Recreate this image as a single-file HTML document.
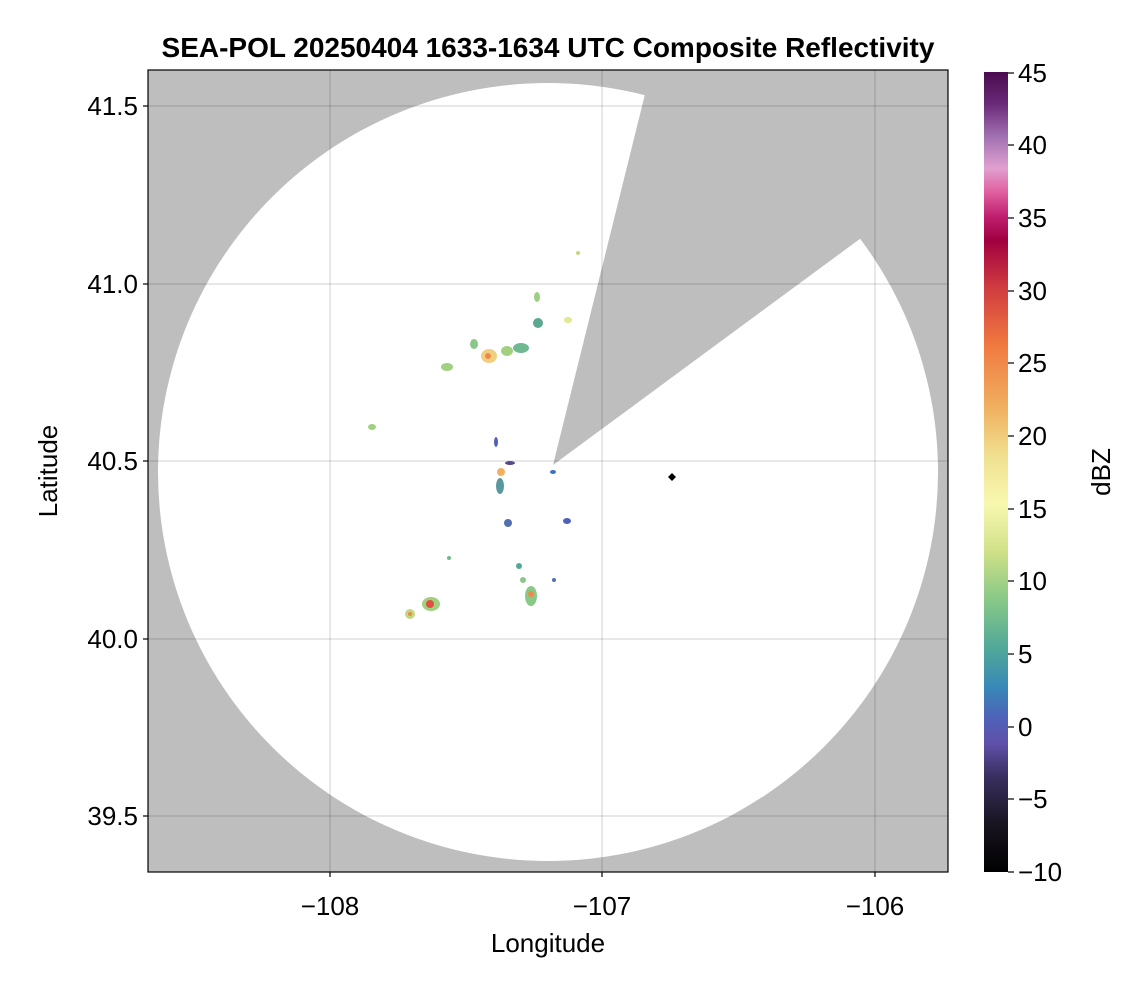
<!DOCTYPE html>
<html><head><style>
body{margin:0;background:#fff;font-family:"Liberation Sans",sans-serif;}
</style></head><body>
<svg width="1146" height="990" xmlns="http://www.w3.org/2000/svg" font-family="Liberation Sans, sans-serif">
<defs>
<clipPath id="pa"><rect x="148" y="70" width="800" height="802"/></clipPath>
<linearGradient id="cb" x1="0" y1="0" x2="0" y2="1">
<stop offset="0" stop-color="#4a0c4e"/><stop offset="0.04" stop-color="#6b2a78"/>
<stop offset="0.08" stop-color="#a070b0"/><stop offset="0.12" stop-color="#e0a0d0"/>
<stop offset="0.15" stop-color="#e060a0"/><stop offset="0.18" stop-color="#c02070"/>
<stop offset="0.21" stop-color="#a00040"/><stop offset="0.27" stop-color="#d03c40"/>
<stop offset="0.34" stop-color="#f07840"/><stop offset="0.42" stop-color="#f0b060"/>
<stop offset="0.48" stop-color="#f0e090"/><stop offset="0.54" stop-color="#f8f8b0"/>
<stop offset="0.6" stop-color="#d0e088"/><stop offset="0.66" stop-color="#88c888"/>
<stop offset="0.72" stop-color="#50a898"/><stop offset="0.77" stop-color="#3888b8"/>
<stop offset="0.81" stop-color="#5060b8"/><stop offset="0.84" stop-color="#6050a8"/>
<stop offset="0.88" stop-color="#3a3060"/><stop offset="0.94" stop-color="#181420"/>
<stop offset="1" stop-color="#000"/>
</linearGradient>
</defs>
<g clip-path="url(#pa)">
<rect x="148" y="70" width="800" height="802" fill="#bebebe"/>
<ellipse cx="548" cy="472" rx="390" ry="389" fill="#fff"/>
<polygon points="553,465 651,70 948,70 948,174" fill="#bebebe"/>
<g stroke="#000" stroke-opacity="0.12" stroke-width="1.5">
<line x1="330" y1="70" x2="330" y2="872"/><line x1="602" y1="70" x2="602" y2="872"/><line x1="875" y1="70" x2="875" y2="872"/>
<line x1="148" y1="106" x2="948" y2="106"/><line x1="148" y1="284" x2="948" y2="284"/><line x1="148" y1="461" x2="948" y2="461"/><line x1="148" y1="639" x2="948" y2="639"/><line x1="148" y1="816" x2="948" y2="816"/>
</g>
<g>
<circle cx="578" cy="253" r="2" fill="#c0d880"/>
<ellipse cx="537" cy="297" rx="3" ry="5" fill="#9cd080"/>
<ellipse cx="538" cy="323" rx="5" ry="5" fill="#5aa890"/>
<ellipse cx="568" cy="320" rx="4" ry="3" fill="#e0e890"/>
<ellipse cx="474" cy="344" rx="4" ry="5" fill="#88c888"/>
<ellipse cx="489" cy="356" rx="8" ry="7" fill="#f0d080"/>
<circle cx="488" cy="356" r="3" fill="#f08848"/>
<ellipse cx="507" cy="351" rx="6" ry="5" fill="#a0d080"/>
<ellipse cx="521" cy="348" rx="8" ry="5" fill="#70b890"/>
<ellipse cx="447" cy="367" rx="6" ry="4" fill="#a0d080"/>
<ellipse cx="372" cy="427" rx="4" ry="3" fill="#a0d080"/>
<ellipse cx="496" cy="442" rx="2" ry="5" fill="#5060b8"/>
<ellipse cx="510" cy="463" rx="5" ry="2" fill="#584890"/>
<ellipse cx="501" cy="472" rx="4" ry="4" fill="#f0b060"/>
<ellipse cx="500" cy="486" rx="4" ry="8" fill="#5a98a0"/>
<ellipse cx="553" cy="472" rx="3" ry="2" fill="#4070c0"/>
<ellipse cx="508" cy="523" rx="4" ry="4" fill="#5070b0"/>
<ellipse cx="567" cy="521" rx="4" ry="3" fill="#5060b8"/>
<circle cx="449" cy="558" r="2" fill="#70b890"/>
<ellipse cx="519" cy="566" rx="3" ry="3" fill="#50a898"/>
<ellipse cx="523" cy="580" rx="3" ry="3" fill="#88c888"/>
<ellipse cx="531" cy="596" rx="6" ry="10" fill="#88c888"/>
<circle cx="531" cy="594" r="3" fill="#f08848"/>
<circle cx="554" cy="580" r="2" fill="#5070b0"/>
<ellipse cx="431" cy="604" rx="9" ry="7" fill="#a0d080"/>
<circle cx="430" cy="604" r="4" fill="#e05040"/>
<ellipse cx="410" cy="614" rx="5" ry="5" fill="#c0d880"/>
<circle cx="410" cy="614" r="2" fill="#f08848"/>
<polygon points="672,473 676,477 672,481 668,477" fill="#000"/>
</g>
</g>
<rect x="148" y="70" width="800" height="802" fill="none" stroke="#000" stroke-width="1.2"/>
<g stroke="#000" stroke-width="1.2">
<line x1="330" y1="872" x2="330" y2="877"/><line x1="602" y1="872" x2="602" y2="877"/><line x1="875" y1="872" x2="875" y2="877"/>
<line x1="143" y1="106" x2="148" y2="106"/><line x1="143" y1="284" x2="148" y2="284"/><line x1="143" y1="461" x2="148" y2="461"/><line x1="143" y1="639" x2="148" y2="639"/><line x1="143" y1="816" x2="148" y2="816"/>
</g>
<g font-size="26" fill="#000">
<text x="330" y="915" text-anchor="middle">−108</text>
<text x="602" y="915" text-anchor="middle">−107</text>
<text x="875" y="915" text-anchor="middle">−106</text>
<text x="138" y="115" text-anchor="end">41.5</text>
<text x="138" y="293" text-anchor="end">41.0</text>
<text x="138" y="470" text-anchor="end">40.5</text>
<text x="138" y="648" text-anchor="end">40.0</text>
<text x="138" y="825" text-anchor="end">39.5</text>
<text x="548" y="952" text-anchor="middle">Longitude</text>
<text transform="translate(57,471) rotate(-90)" text-anchor="middle">Latitude</text>
</g>
<text x="548" y="57" text-anchor="middle" font-size="28" font-weight="bold">SEA-POL 20250404 1633-1634 UTC Composite Reflectivity</text>
<rect x="984" y="72" width="24" height="800" fill="url(#cb)"/>
<g stroke="#000" stroke-width="1.2">
<line x1="1008" y1="73" x2="1014" y2="73"/><line x1="1008" y1="145" x2="1014" y2="145"/><line x1="1008" y1="218" x2="1014" y2="218"/><line x1="1008" y1="291" x2="1014" y2="291"/><line x1="1008" y1="363" x2="1014" y2="363"/><line x1="1008" y1="436" x2="1014" y2="436"/><line x1="1008" y1="509" x2="1014" y2="509"/><line x1="1008" y1="581" x2="1014" y2="581"/><line x1="1008" y1="654" x2="1014" y2="654"/><line x1="1008" y1="727" x2="1014" y2="727"/><line x1="1008" y1="799" x2="1014" y2="799"/><line x1="1008" y1="872" x2="1014" y2="872"/>
</g>
<g font-size="26">
<text x="1018" y="82">45</text><text x="1018" y="154">40</text><text x="1018" y="227">35</text><text x="1018" y="300">30</text><text x="1018" y="372">25</text><text x="1018" y="445">20</text><text x="1018" y="518">15</text><text x="1018" y="590">10</text><text x="1018" y="663">5</text><text x="1018" y="736">0</text><text x="1018" y="808">−5</text><text x="1018" y="881">−10</text>
<text transform="translate(1110,472) rotate(-90)" text-anchor="middle">dBZ</text>
</g>
</svg>
</body></html>
